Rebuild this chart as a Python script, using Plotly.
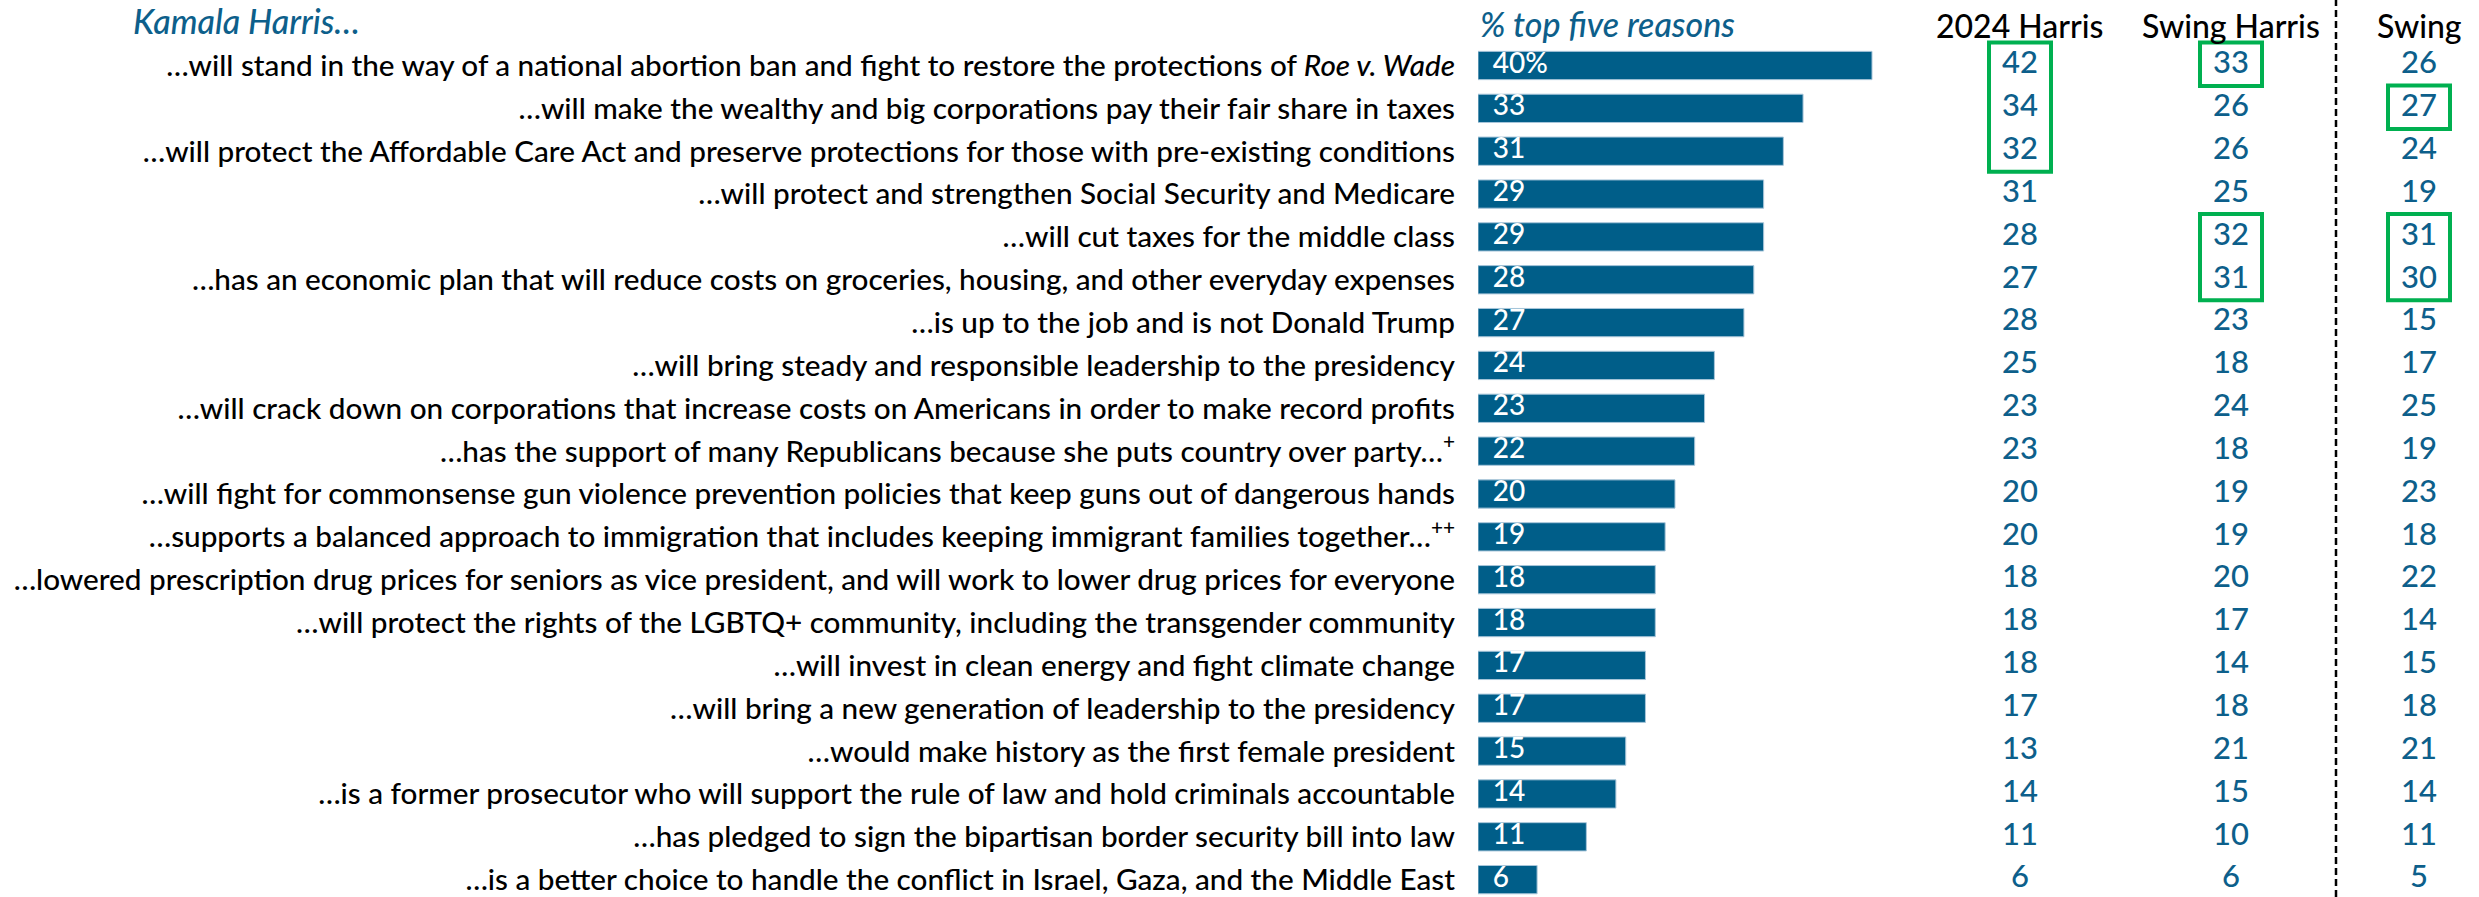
import plotly.graph_objects as go

# ---------------- data ----------------
reasons = [
    "…will stand in the way of a national abortion ban and fight to restore the protections of <i>Roe v. Wade</i>",
    "…will make the wealthy and big corporations pay their fair share in taxes",
    "…will protect the Affordable Care Act and preserve protections for those with pre-existing conditions",
    "…will protect and strengthen Social Security and Medicare",
    "…will cut taxes for the middle class",
    "…has an economic plan that will reduce costs on groceries, housing, and other everyday expenses",
    "…is up to the job and is not Donald Trump",
    "…will bring steady and responsible leadership to the presidency",
    "…will crack down on corporations that increase costs on Americans in order to make record profits",
    "…has the support of many Republicans because she puts country over party…<sup>+</sup>",
    "…will fight for commonsense gun violence prevention policies that keep guns out of dangerous hands",
    "…supports a balanced approach to immigration that includes keeping immigrant families together…<sup>++</sup>",
    "…lowered prescription drug prices for seniors as vice president, and will work to lower drug prices for everyone",
    "…will protect the rights of the LGBTQ+ community, including the transgender community",
    "…will invest in clean energy and fight climate change",
    "…will bring a new generation of leadership to the presidency",
    "…would make history as the first female president",
    "…is a former prosecutor who will support the rule of law and hold criminals accountable",
    "…has pledged to sign the bipartisan border security bill into law",
    "…is a better choice to handle the conflict in Israel, Gaza, and the Middle East",
]
top_five = [40, 33, 31, 29, 29, 28, 27, 24, 23, 22, 20, 19, 18, 18, 17, 17, 15, 14, 11, 6]
harris_2024 = [42, 34, 32, 31, 28, 27, 28, 25, 23, 23, 20, 20, 18, 18, 18, 17, 13, 14, 11, 6]
swing_harris = [33, 26, 26, 25, 32, 31, 23, 18, 24, 18, 19, 19, 20, 17, 14, 18, 21, 15, 10, 6]
swing = [26, 27, 24, 19, 31, 30, 15, 17, 25, 19, 23, 18, 22, 14, 15, 18, 21, 14, 11, 5]
column_headers = ["2024 Harris", "Swing Harris", "Swing"]
# highlighted cells: (column index, first row, last row)
highlights = [(0, 0, 2), (1, 0, 0), (1, 4, 5), (2, 1, 1), (2, 4, 5)]

# ---------------- layout constants ----------------
W, H = 2479, 897
ROW0_PX, ROW_STEP = 65.5, 42.85
BAR_X0, PX_PER_UNIT = 1478.0, 9.85
COL_X = [2020, 2231, 2419]
DIVIDER_X = 2336
BLUE = "#005E89"
TEXT_BLUE = "#0D5F8B"
GREEN = "#00B050"
FONT = "Lato"

n = len(reasons)
rows = list(range(n))
y_top = (0 - ROW0_PX) / ROW_STEP
y_bot = (H - ROW0_PX) / ROW_STEP
bar_range_max = 50
bar_dom_end = (BAR_X0 + bar_range_max * PX_PER_UNIT) / W

def ypaper(px):
    return 1 - px / H

fig = go.Figure()

fig.add_trace(go.Bar(
    x=top_five, y=rows, orientation="h",
    marker=dict(color=BLUE, line=dict(color="#A8C6DA", width=1)),
    width=0.66, hoverinfo="skip", xaxis="x", yaxis="y",
))
bar_text = [f"{v}%" if i == 0 else str(v) for i, v in enumerate(top_five)]
fig.add_trace(go.Scatter(
    x=[1.5] * n, y=rows, mode="text", text=bar_text,
    textposition="middle right",
    textfont=dict(family=FONT, size=28, color="white", weight=500),
    hoverinfo="skip", xaxis="x", yaxis="y",
))
for ci, col in enumerate([harris_2024, swing_harris, swing]):
    fig.add_trace(go.Scatter(
        x=[COL_X[ci]] * n, y=rows, mode="text", text=[str(v) for v in col],
        textposition="middle center",
        textfont=dict(family=FONT, size=31, color=TEXT_BLUE, weight=500),
        hoverinfo="skip", xaxis="x2", yaxis="y",
    ))

shapes = []
for ci, r0, r1 in highlights:
    shapes.append(dict(
        type="rect", xref="x2", yref="y",
        x0=COL_X[ci] - 31, x1=COL_X[ci] + 31,
        y0=r0 - 0.535, y1=r1 + 0.48,
        line=dict(color=GREEN, width=4), fillcolor="rgba(0,0,0,0)",
    ))
shapes.append(dict(
    type="line", xref="x2", yref="paper", x0=DIVIDER_X, x1=DIVIDER_X, y0=0, y1=1,
    line=dict(color="black", width=2.5, dash="7px,4px"),
))

annotations = [
    dict(text="<i>Kamala Harris…</i>", xref="paper", yref="paper",
         x=131 / W, y=ypaper(21), xanchor="left", yanchor="middle", showarrow=False,
         font=dict(family=FONT, size=34, color=TEXT_BLUE, weight=500)),
    dict(text="<i>% top five reasons</i>", xref="paper", yref="paper",
         x=BAR_X0 / W, y=ypaper(23), xanchor="left", yanchor="middle", showarrow=False,
         font=dict(family=FONT, size=34, color=TEXT_BLUE, weight=500)),
]
for ci, h in enumerate(column_headers):
    annotations.append(dict(
        text=h, xref="x2", yref="paper", x=COL_X[ci], y=ypaper(25),
        xanchor="center", yanchor="middle", showarrow=False,
        font=dict(family=FONT, size=32, color="black", weight=500),
    ))

fig.update_layout(
    width=W, height=H,
    margin=dict(l=0, r=0, t=0, b=0, autoexpand=False),
    paper_bgcolor="white", plot_bgcolor="white",
    showlegend=False,
    xaxis=dict(domain=[BAR_X0 / W, bar_dom_end], range=[0, bar_range_max],
               visible=False, fixedrange=True, automargin=False),
    xaxis2=dict(domain=[1960 / W, 1], range=[1960, W], visible=False,
                anchor="y", fixedrange=True, automargin=False),
    yaxis=dict(range=[y_bot, y_top], tickvals=rows, ticktext=reasons,
               showgrid=False, zeroline=False, showline=False, ticks="",
               ticklabelstandoff=22, automargin=False, ticklabeloverflow="allow",
               tickfont=dict(family=FONT, size=29.7, color="black", weight=500),
               anchor="x", fixedrange=True),
    shapes=shapes,
    annotations=annotations,
    bargap=0.34,
)

fig.write_html(
    "out.html",
    config={"displayModeBar": False},
    post_script="document.body.style.margin='0px';document.body.style.padding='0px';",
)
